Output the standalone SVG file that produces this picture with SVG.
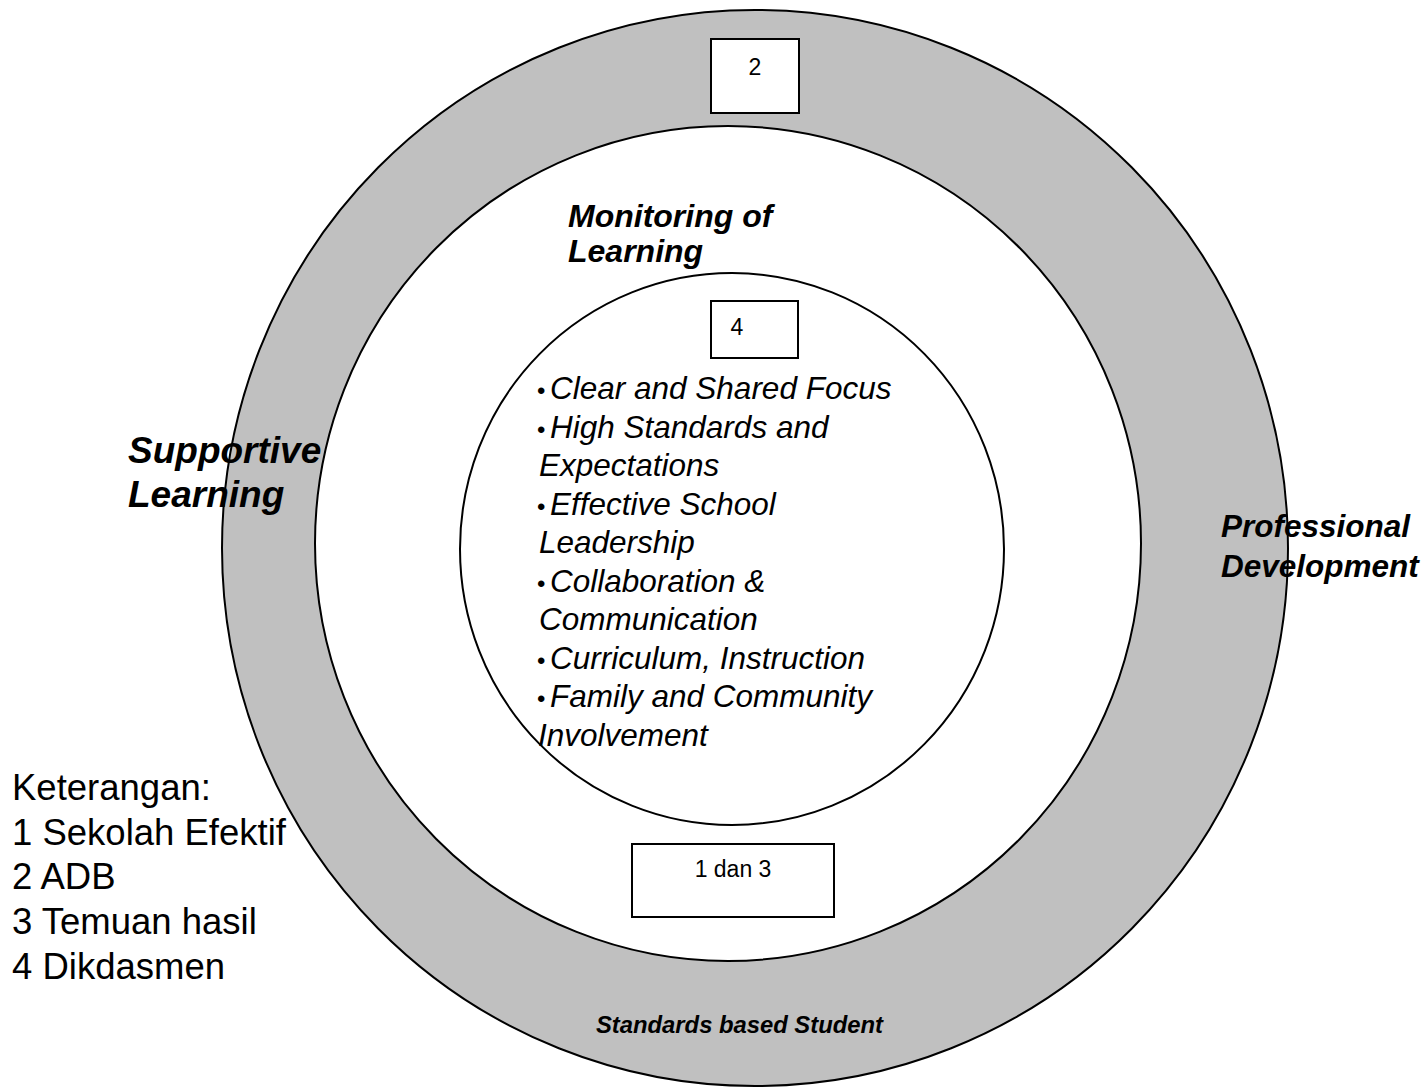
<svg xmlns="http://www.w3.org/2000/svg" width="1426" height="1088" viewBox="0 0 1426 1088">
<style>
.ring{stroke:#000;stroke-width:2}
.box{fill:#fff;stroke:#000;stroke-width:2}
.lbl{font-family:"Liberation Sans",Arial,sans-serif;font-size:23px;fill:#000}
.bi{font-family:"Liberation Sans",Arial,sans-serif;font-weight:bold;font-style:italic;fill:#000}
.it{font-family:"Liberation Sans",Arial,sans-serif;font-style:italic;font-size:31.5px;fill:#000}
.bul{font-style:normal;font-size:24px}
.leg{font-family:"Liberation Sans",Arial,sans-serif;font-size:36.5px;fill:#000}
</style>
<rect width="1426" height="1088" fill="#fff"/>
<g id="outer-ring">
<ellipse class="ring" cx="755" cy="548" rx="533" ry="538" fill="#c0c0c0"/>
</g>
<g id="middle-circle">
<ellipse class="ring" cx="728" cy="543.5" rx="413" ry="417.5" fill="#fff"/>
</g>
<g id="inner-circle">
<ellipse class="ring" cx="732" cy="549" rx="272" ry="276" fill="#fff"/>
</g>
<g id="connectors"></g>
<g id="box-2">
<rect class="box" x="711" y="39" width="88" height="74"/>
<text class="lbl" x="755" y="75" text-anchor="middle" font-size="24">2</text>
</g>
<g id="box-4">
<rect class="box" x="711" y="301" width="87" height="57"/>
<text class="lbl" x="737" y="335" text-anchor="middle" font-size="24">4</text>
</g>
<g id="box-1-dan-3">
<rect class="box" x="632" y="844" width="202" height="73"/>
<text class="lbl" x="733" y="877" text-anchor="middle">1 dan 3</text>
</g>
<g id="monitoring">
<text class="bi" font-size="32" x="568" y="227">Monitoring of</text>
<text class="bi" font-size="32" x="568" y="262">Learning</text>
</g>
<g id="supportive">
<text class="bi" font-size="37" x="128" y="463">Supportive</text>
<text class="bi" font-size="37" x="128" y="507">Learning</text>
</g>
<g id="professional">
<text class="bi" font-size="31.5" x="1221" y="537">Professional</text>
<text class="bi" font-size="31.5" x="1221" y="577">Development</text>
</g>
<g id="standards">
<text class="bi" font-size="23.8" x="596" y="1033">Standards based Student</text>
</g>
<g id="characteristics">
<text class="it" y="399"><tspan x="537" class="bul">•</tspan><tspan x="550">Clear and Shared Focus</tspan></text>
<text class="it" y="437.5"><tspan x="537" class="bul">•</tspan><tspan x="550">High Standards and</tspan></text>
<text class="it" x="539" y="476">Expectations</text>
<text class="it" y="514.5"><tspan x="537" class="bul">•</tspan><tspan x="550">Effective School</tspan></text>
<text class="it" x="539" y="553">Leadership</text>
<text class="it" y="591.5"><tspan x="537" class="bul">•</tspan><tspan x="550">Collaboration &amp;</tspan></text>
<text class="it" x="539" y="630">Communication</text>
<text class="it" y="668.5"><tspan x="537" class="bul">•</tspan><tspan x="550">Curriculum, Instruction</tspan></text>
<text class="it" y="707"><tspan x="537" class="bul">•</tspan><tspan x="550">Family and Community</tspan></text>
<text class="it" x="538" y="745.5">Involvement</text>
</g>
<g id="legend">
<text class="leg" x="12" y="800">Keterangan:</text>
<text class="leg" x="12" y="845">1 Sekolah Efektif</text>
<text class="leg" x="12" y="889">2 ADB</text>
<text class="leg" x="12" y="934">3 Temuan hasil</text>
<text class="leg" x="12" y="979">4 Dikdasmen</text>
</g>
</svg>
